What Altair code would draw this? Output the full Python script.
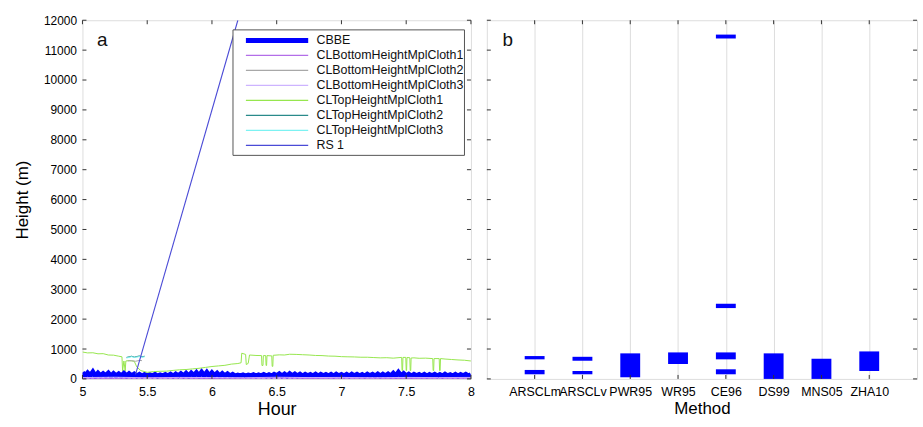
import altair as alt
import numpy as np
import pandas as pd

FONT = "Liberation Sans"

# ---------------- panel a: time series ----------------
series_names = ["CBBE", "CLBottomHeightMplCloth1", "CLBottomHeightMplCloth2",
                "CLBottomHeightMplCloth3", "CLTopHeightMplCloth1",
                "CLTopHeightMplCloth2", "CLTopHeightMplCloth3", "RS 1"]
series_colors = ["#0000ff", "#b36ee8", "#a8a8a8", "#cdb4ff", "#96e64e",
                 "#2a8a8a", "#7cf2f2", "#4a4ad6"]
legend_widths = [5, 1.2, 1.2, 1.2, 1.2, 1.2, 1.2, 1.2]

cbbe_values = [
    220, 100, 200, 110, 230, 90,
    190, 105, 175, 110, 195, 95, 180, 105, 170, 100,
    185, 95, 175, 105, 165, 100, 150, 95, 145, 105,
    140, 100, 150, 95, 135, 105, 145, 100, 155, 95,
    165, 105, 175, 100, 185, 95, 195, 110, 210, 100,
    225, 105, 215, 95, 205, 110, 190, 100, 180, 105,
    170, 100, 150, 95, 130, 105, 135, 100, 125, 105,
    140, 95, 135, 105, 145, 100, 140, 95, 150, 105,
    170, 100, 160, 95, 175, 105, 165, 100, 155, 95,
    150, 105, 145, 100, 155, 95, 150, 105, 145, 100,
    150, 95, 155, 105, 145, 100, 150, 95, 155, 105,
    150, 100, 145, 95, 155, 105, 150, 100, 160, 95,
    155, 105, 165, 100, 185, 95, 215, 105, 180, 100,
    155, 95, 150, 105, 145, 100, 150, 95, 145, 105,
    150, 100, 145, 95, 155, 105, 140, 100, 150, 95,
    145, 105, 150, 100, 145,
]
cbbe_hours = list(np.round(np.linspace(5.0, 8.0, len(cbbe_values)), 3))

bottom1_hours = [5.0, 5.25, 5.5, 5.75, 6.0, 6.25, 6.5, 6.75, 7.0, 7.25, 7.5, 7.75, 8.0]
bottom1_values = [20, 15, 25, 20, 15, 20, 25, 15, 20, 20, 15, 20, 20]

bottom2_hours = [5.35, 5.38, 5.41, 5.44, 5.46]
bottom2_values = [600, 610, 590, 620, 610]

bottom3_hours = [5.0, 5.25, 5.5, 5.75, 6.0, 6.25, 6.5, 6.75, 7.0, 7.25, 7.5, 7.75, 8.0]
bottom3_values = [45, 55, 40, 50, 45, 40, 55, 45, 50, 40, 50, 45, 50]

top1_hours = [5.00, 5.04, 5.08, 5.12, 5.16, 5.20, 5.24, 5.28, 5.305, 5.31, 5.32,
              5.33, 5.335, 5.36, 5.40, 5.42, 5.45, 5.50, 5.55, 5.60, 5.65, 5.70,
              5.75, 5.80, 5.85, 5.90, 5.95, 6.00, 6.05, 6.10, 6.15, 6.20, 6.225,
              6.23, 6.26, 6.265, 6.28, 6.29, 6.34, 6.383, 6.386, 6.394, 6.397,
              6.415, 6.418, 6.422, 6.425, 6.462, 6.465, 6.47, 6.473, 6.52, 6.56,
              6.60, 6.65, 6.70, 6.75, 6.80, 6.85, 6.90, 6.95, 7.00, 7.05, 7.10,
              7.15, 7.20, 7.25, 7.30, 7.35, 7.40, 7.465, 7.468, 7.472, 7.475,
              7.497, 7.50, 7.503, 7.506, 7.528, 7.531, 7.535, 7.538, 7.56, 7.60,
              7.65, 7.705, 7.708, 7.712, 7.715, 7.755, 7.758, 7.762, 7.765, 7.80,
              7.85, 7.90, 7.95, 8.00]
top1_values = [900, 870, 875, 840, 845, 800, 795, 760, 740, 270, 600,
               270, 600, 615, 590, 400, 280, 220, 245, 255, 260, 285,
               305, 315, 335, 355, 385, 415, 435, 455, 495, 515, 540,
               860, 820, 480, 520, 800, 785, 780, 450, 450, 780,
               780, 450, 450, 780, 770, 420, 420, 790, 805, 800,
               825, 820, 810, 800, 785, 780, 765, 760, 745, 740, 735,
               725, 725, 715, 705, 710, 695, 720, 280, 280, 720,
               720, 280, 280, 715, 710, 280, 280, 700, 705, 690,
               695, 680, 280, 280, 680, 680, 280, 280, 680, 665,
               650, 635, 625, 600]

top2_hours = [5.34, 5.36, 5.38, 5.40, 5.42, 5.44, 5.46, 5.48]
top2_values = [720, 740, 760, 730, 750, 770, 740, 760]

top3_hours = [5.34, 5.36, 5.38, 5.40, 5.42, 5.44, 5.46, 5.48]
top3_values = [700, 720, 745, 715, 730, 750, 725, 740]

rs_hours = [5.41, 6.20]
rs_values = [150, 12000]

hour_ticks = [5, 5.5, 6, 6.5, 7, 7.5, 8]
height_ticks = [0, 1000, 2000, 3000, 4000, 5000, 6000, 7000, 8000, 9000,
                10000, 11000, 12000]

# ---------------- panel b: methods ----------------
methods = ["ARSCLm", "ARSCLv", "PWR95", "WR95", "CE96", "DS99", "MNS05", "ZHA10"]
bar_method = ["ARSCLm", "ARSCLm", "ARSCLv", "ARSCLv", "PWR95", "WR95",
              "CE96", "CE96", "CE96", "CE96", "DS99", "MNS05", "ZHA10"]
bar_bottom = [155, 655, 155, 608, 55, 500, 155, 655, 2370, 11390, 0, 0, 265]
bar_top = [300, 765, 265, 740, 855, 887, 322, 887, 2515, 11520, 855, 675, 920]

# ---------------- build tables ----------------
series_data = {
    "CBBE": (cbbe_hours, cbbe_values),
    "CLBottomHeightMplCloth1": (bottom1_hours, bottom1_values),
    "CLBottomHeightMplCloth2": (bottom2_hours, bottom2_values),
    "CLBottomHeightMplCloth3": (bottom3_hours, bottom3_values),
    "CLTopHeightMplCloth1": (top1_hours, top1_values),
    "CLTopHeightMplCloth2": (top2_hours, top2_values),
    "CLTopHeightMplCloth3": (top3_hours, top3_values),
    "RS 1": (rs_hours, rs_values),
}
rows = []
for name in series_names:
    hrs, vals = series_data[name]
    for i, (h, v) in enumerate(zip(hrs, vals)):
        rows.append({"series": name, "hour": float(h), "height": v, "idx": i})
df_a = pd.DataFrame(rows)

df_leg = pd.DataFrame({"series": series_names, "lw": legend_widths})
df_bars = pd.DataFrame({"method": bar_method, "bottom": bar_bottom, "top": bar_top})
df_yt_a = pd.DataFrame({"height": height_ticks})
df_xt_a = pd.DataFrame({"hour": hour_ticks})
df_yt_b = pd.DataFrame({"bottom": height_ticks})
df_m = pd.DataFrame({"method": methods})

W_A, W_B, H = 391, 433, 361
TICK = 4
TICK_COLOR = "#333333"
line_colors = dict(zip(series_names, series_colors))
line_widths = {"CBBE": 5.0, "RS 1": 1.1}

x_a = alt.X("hour:Q", scale=alt.Scale(domain=[5, 8], nice=False, zero=False),
            axis=alt.Axis(values=hour_ticks, format="~g", title="Hour",
                          ticks=False, domain=False, grid=False, labelFlush=False,
                          labelOverlap=False, labelFontSize=12.5, labelPadding=7,
                          titleFontSize=18, titlePadding=2, titleFontWeight=400))
y_a = alt.Y("height:Q", scale=alt.Scale(domain=[0, 12000], nice=False),
            axis=alt.Axis(values=height_ticks, format="d",
                          title="Height (m)",
                          ticks=False, domain=False, grid=False, labelFlush=False,
                          labelOverlap=False, labelFontSize=12, labelPadding=6,
                          titleFontSize=17, titlePadding=12, titleFontWeight=400))

draw_order = ["CBBE", "CLTopHeightMplCloth1", "CLBottomHeightMplCloth2",
              "CLBottomHeightMplCloth3", "CLBottomHeightMplCloth1",
              "CLTopHeightMplCloth2", "CLTopHeightMplCloth3", "RS 1"]
line_layers = []
for name in draw_order:
    line_layers.append(
        alt.Chart(df_a).transform_filter(alt.datum.series == name)
        .mark_line(clip=True, color=line_colors[name],
                   strokeWidth=line_widths.get(name, 1.0))
        .encode(x=x_a, y=y_a, order="idx:Q")
    )

# inward ticks for panel a (same encodings as the data, so axes merge cleanly)
ya_left = alt.Chart(df_yt_a).mark_rule(color=TICK_COLOR).encode(
    y=y_a, x=alt.value(0), x2=alt.value(TICK))
ya_right = alt.Chart(df_yt_a).mark_rule(color=TICK_COLOR).encode(
    y=y_a, x=alt.value(W_A - TICK), x2=alt.value(W_A))
xa_bot = alt.Chart(df_xt_a).mark_rule(color=TICK_COLOR).encode(
    x=x_a, y=alt.value(H - TICK), y2=alt.value(H))
xa_top = alt.Chart(df_xt_a).mark_rule(color=TICK_COLOR).encode(
    x=x_a, y=alt.value(0), y2=alt.value(TICK))
label_a = alt.Chart(pd.DataFrame({"t": ["a"]})).mark_text(
    font=FONT, fontSize=19, align="center", baseline="middle", color="#111111"
).encode(text="t:N", x=alt.value(20), y=alt.value(20))

data_a = alt.layer(*line_layers, ya_left, ya_right, xa_bot, xa_top, label_a)

# legend box for panel a
leg_y = alt.Y("series:N", scale=alt.Scale(type="point", domain=series_names,
                                          range=[20.3, 126], padding=0), axis=None)
leg_box = alt.Chart(pd.DataFrame({"t": ["box"]})).mark_rect(
    fill="white", stroke="#555555", strokeWidth=1
).encode(x=alt.value(151.5), x2=alt.value(384.5), y=alt.value(9.7), y2=alt.value(136))
leg_lines = alt.Chart(df_leg).mark_rule().encode(
    y=leg_y, x=alt.value(164.5), x2=alt.value(227.2),
    color=alt.Color("series:N", scale=alt.Scale(domain=series_names, range=series_colors),
                    legend=None),
    strokeWidth=alt.StrokeWidth("lw:Q", scale=None))
leg_text = alt.Chart(df_leg).mark_text(
    align="left", baseline="middle", font=FONT, fontSize=12.5, color="#111111"
).encode(y=leg_y, x=alt.value(235.5), text="series:N")
legend_a = alt.layer(leg_box, leg_lines, leg_text)

panel_a = alt.layer(data_a, legend_a).resolve_scale(y="independent").properties(
    width=W_A, height=H)

# ---------------- panel b chart ----------------
x_b = alt.X("method:N", sort=methods,
            scale=alt.Scale(type="point", domain=methods, padding=1),
            axis=alt.Axis(title="Method", ticks=False, domain=False, grid=True,
                          gridColor="#dddddd", labelAngle=0, labelOverlap=False,
                          labelFontSize=12.5, labelPadding=7,
                          titleFontSize=17, titlePadding=2, titleFontWeight=400))
y_b = alt.Y("bottom:Q", scale=alt.Scale(domain=[0, 12000], nice=False), axis=None)

bars = alt.Chart(df_bars).mark_bar(size=20, color="#0000ff").encode(
    x=x_b, y=y_b, y2="top:Q")
yb_left = alt.Chart(df_yt_b).mark_rule(color=TICK_COLOR).encode(
    y=y_b, x=alt.value(0), x2=alt.value(TICK))
yb_right = alt.Chart(df_yt_b).mark_rule(color=TICK_COLOR).encode(
    y=y_b, x=alt.value(W_B - TICK), x2=alt.value(W_B))
xb_bot = alt.Chart(df_m).mark_rule(color=TICK_COLOR).encode(
    x=x_b, y=alt.value(H - TICK), y2=alt.value(H))
xb_top = alt.Chart(df_m).mark_rule(color=TICK_COLOR).encode(
    x=x_b, y=alt.value(0), y2=alt.value(TICK))
label_b = alt.Chart(pd.DataFrame({"t": ["b"]})).mark_text(
    font=FONT, fontSize=19, align="center", baseline="middle", color="#111111"
).encode(text="t:N", x=alt.value(21), y=alt.value(20))

panel_b = alt.layer(bars, yb_left, yb_right, xb_bot, xb_top, label_b).properties(
    width=W_B, height=H)

chart = alt.hconcat(panel_a, panel_b, spacing=11).properties(
    padding={"left": 13, "top": 12, "right": 5, "bottom": 5}
).configure_view(
    stroke="#333333", strokeWidth=1
).configure_axis(
    labelFont=FONT, titleFont=FONT, labelColor="#262626", titleColor="#1a1a1a",
    labelOverlap=False
).configure(background="white")

chart.save("out.html", embed_options={"renderer": "svg", "actions": False})
